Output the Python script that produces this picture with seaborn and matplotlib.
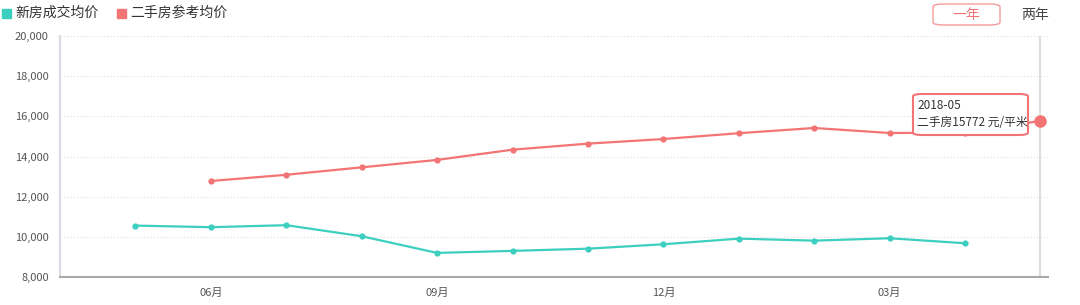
import matplotlib
matplotlib.use("Agg")
import matplotlib.pyplot as plt
import seaborn as sns
import numpy as np
import pandas as pd
from matplotlib.patches import FancyBboxPatch

# ---- data ----
months = ["2017-05", "2017-06", "2017-07", "2017-08", "2017-09", "2017-10", "2017-11",
          "2017-12", "2018-01", "2018-02", "2018-03", "2018-04", "2018-05"]
new_price = [10560, 10480, 10580, 10030, 9200, 9300, 9410, 9630, 9910, 9810, 9930, 9680, np.nan]
second_price = [np.nan, 12780, 13090, 13460, 13830, 14340, 14640, 14870, 15160, 15420, 15170, 15190, 15772]
series_names = ["新房成交均价", "二手房参考均价"]
tick_months = ["2017-06", "2017-09", "2017-12", "2018-03"]
tick_labels = ["06月", "09月", "12月", "03月"]
y_ticks = [8000, 10000, 12000, 14000, 16000, 18000, 20000]
tooltip_month = "2018-05"
tooltip_text = "2018-05\n二手房15772 元/平米"

GREEN = "#3ccfbf"
RED = "#f37474"

sns.set_theme(style="white")
plt.rcParams['font.family'] = ['Noto Sans CJK SC', 'DejaVu Sans']

idx = {m: i + 1 for i, m in enumerate(months)}
df = pd.DataFrame({
    "x": [idx[m] for m in months] * 2,
    "price": new_price + second_price,
    "series": [series_names[0]] * len(months) + [series_names[1]] * len(months),
})

fig = plt.figure(figsize=(10.8, 3.05), dpi=100)
ax = fig.add_axes([60 / 1080, 1 - 277 / 305, 988 / 1080, 241 / 305])

sns.lineplot(data=df.dropna(), x="x", y="price", hue="series",
             palette={series_names[0]: GREEN, series_names[1]: RED},
             marker="o", markersize=4.5, markeredgewidth=0, linewidth=1.6,
             legend=False, ax=ax, zorder=3)

ax.set_xlim(0, 13.1)
ax.set_ylim(8000, 20000)
ax.set_yticks(y_ticks)
ax.set_yticklabels([f"{v:,}" for v in y_ticks], fontsize=8, color="#555555")
ax.set_xticks(range(1, 14))
lab = {m: l for m, l in zip(tick_months, tick_labels)}
ax.set_xticklabels([lab.get(m, "") for m in months], fontsize=8, color="#555555")
ax.set_xlabel("")
ax.set_ylabel("")
ax.tick_params(axis="both", length=4, width=0.8, color="#cccccc", pad=4)
ax.yaxis.grid(True, linestyle=(0, (1, 2)), color="#dddddd", linewidth=0.8)
ax.xaxis.grid(False)
for s in ["top", "right"]:
    ax.spines[s].set_visible(False)
ax.spines["left"].set_color("#d8dde3")
ax.spines["left"].set_linewidth(1.5)
ax.spines["bottom"].set_color("#aaaaaa")
ax.spines["bottom"].set_linewidth(1.5)

# hover pointer line & highlighted point
tx = idx[tooltip_month]
ty = second_price[months.index(tooltip_month)]
ax.axvline(tx, color="#dddddd", linewidth=1.5, zorder=1)
ax.plot([tx], [ty], "o", color=RED, markersize=8, zorder=5, clip_on=False)

# tooltip
box = FancyBboxPatch((913 / 1080, 1 - 135 / 305), 115 / 1080, 41 / 305,
                     boxstyle="round,pad=0,rounding_size=0.008",
                     transform=fig.transFigure, facecolor="white",
                     edgecolor=RED, linewidth=1.5, zorder=10)
fig.patches.append(box)
fig.text(917 / 1080, 1 - 114 / 305, tooltip_text, fontsize=8.5, color="#333333",
         va="center", ha="left", linespacing=1.35, zorder=11)

# legend
fig.patches.append(plt.Rectangle((2 / 1080, 1 - 18 / 305), 9 / 1080, 9 / 305,
                                 transform=fig.transFigure, color=GREEN))
fig.text(15 / 1080, 1 - 13 / 305, series_names[0], fontsize=10, color="#333333", va="center")
fig.patches.append(plt.Rectangle((117 / 1080, 1 - 18 / 305), 9 / 1080, 9 / 305,
                                 transform=fig.transFigure, color=RED))
fig.text(130 / 1080, 1 - 13 / 305, series_names[1], fontsize=10, color="#333333", va="center")

# period buttons
btn = FancyBboxPatch((933 / 1080, 1 - 25 / 305), 67 / 1080, 21 / 305,
                     boxstyle="round,pad=0,rounding_size=0.0095",
                     transform=fig.transFigure, facecolor="white",
                     edgecolor="#f49a9a", linewidth=1.0)
fig.patches.append(btn)
fig.text(966 / 1080, 1 - 15 / 305, "一年", fontsize=10, color=RED, va="center", ha="center")
fig.text(1035 / 1080, 1 - 15 / 305, "两年", fontsize=10, color="#444444", va="center", ha="center")

fig.savefig("out.png", dpi=100)
